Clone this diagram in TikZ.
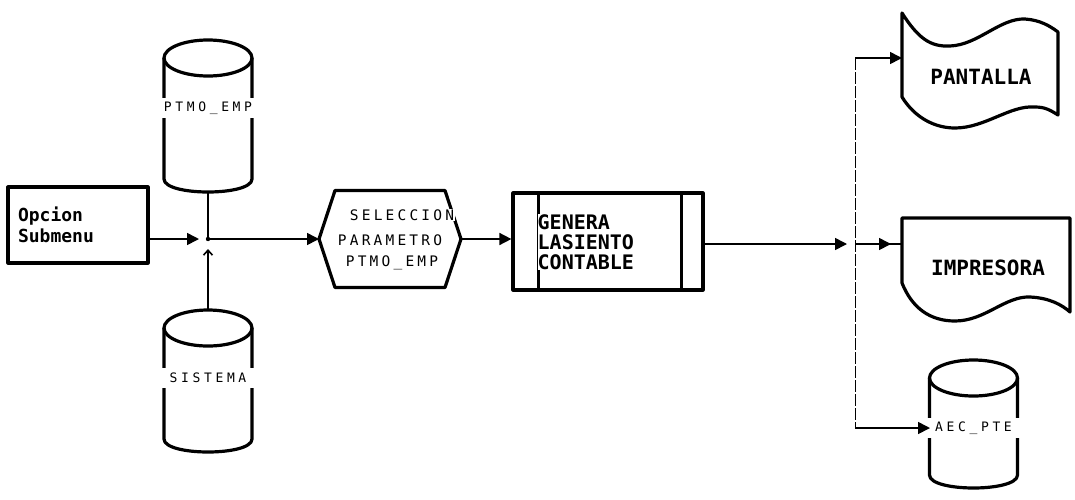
\documentclass[tikz,border=0pt]{standalone}
\usepackage{fontspec}
\usetikzlibrary{arrows.meta}
\newfontfamily\pf{DejaVu Sans Mono}
\newfontfamily\pfs[LetterSpace=28]{DejaVu Sans Mono}
\newfontfamily\pfh[LetterSpace=22]{DejaVu Sans Mono}
\tikzset{
  shp/.style={line width=3.2pt, line join=round},
  conn/.style={line width=1.6pt},
  thinl/.style={line width=1pt, dash pattern=on 12pt off 2pt},
  tip/.style={-{Triangle[length=12pt,width=12pt]}},
  openup/.style={-{Straight Barb[length=5pt,width=9pt]}},
  big/.style={font=\pf\bfseries\fontsize{20}{20}\selectfont, inner sep=0pt},
  lab/.style={font=\pfs\fontsize{13}{14}\selectfont, fill=white, inner sep=1pt},
  hlab/.style={font=\pfh\fontsize{14.5}{15}\selectfont, fill=white, inner sep=1pt},
}
\newcommand\dbcyl[6]{%
  \draw[shp] (#2,#3+18) ellipse [x radius=44pt, y radius=18pt];
  \draw[shp] (#2-44,#3+18) -- (#2-44,#4-13) .. controls (#2-44,#4+4.33) and (#2+44,#4+4.33) .. (#2+44,#4-13) -- (#2+44,#3+18);
  \coordinate (#1-top) at (#2,#3);
  \coordinate (#1-bot) at (#2,#4);
  \node[lab, minimum height=20pt, minimum width=93pt] (#1) at (#2,#5) {#6};
}
\begin{document}
\begin{tikzpicture}[x=1pt,y=-1pt]
\useasboundingbox[fill=white] (0,0) rectangle (1075,499);

% Opcion Submenu
\node[draw, shp, minimum width=140pt, minimum height=76pt, text width=120pt, inner xsep=10pt, align=left,
      font=\pf\bfseries\fontsize{18}{21}\selectfont] (opc) at (78,225) {Opcion\\Submenu};

% cylinders
\dbcyl{ptmo}{208}{40}{192}{108}{PTMO\_EMP}
\dbcyl{sis}{208}{310}{452}{378}{SISTEMA}
\dbcyl{aec}{973.5}{360}{488}{428}{AEC\_PTE}

% hexagon
\draw[shp] (335,190.5) -- (445,190.5) -- (461,239) -- (445,287.5) -- (335,287.5) -- (319,239) -- cycle;
\coordinate (hexW) at (319,239);
\coordinate (hexE) at (461,239);
\node[hlab] (s1) at (402,215) {SELECCION};
\node[hlab] (s2) at (390,240) {PARAMETRO};
\node[hlab] (s3) at (392,263) {PTMO\_EMP};

% predefined process
\node[draw, shp, minimum width=190pt, minimum height=97pt] (gen) at (608,241.5) {};
\draw[shp] ([xshift=27pt]gen.north west) -- ([xshift=27pt]gen.south west);
\draw[shp] ([xshift=-23pt]gen.north east) -- ([xshift=-23pt]gen.south east);
\node[big, fill=white, align=left, anchor=west] (gtext) at (537.5,242) {GENERA\\LASIENTO\\CONTABLE};

% PANTALLA
\draw[shp] (902,13) .. controls (918,38) and (930,47) .. (950,46) .. controls (978,45) and (1000,18) .. (1025,19)
  .. controls (1040,20) and (1050,26) .. (1058,32) -- (1058,115)
  .. controls (1050,110) and (1045,107) .. (1035,107) .. controls (1010,105) and (985,128) .. (955,128)
  .. controls (935,128) and (915,118) .. (902,97) -- cycle;
\coordinate (panIn) at (902,58);
\node[font=\pf\bfseries\fontsize{21}{21}\selectfont, inner sep=0pt] (pant) at (981,77) {PANTALLA};

% IMPRESORA
\draw[shp] (902,218) -- (1070,218) -- (1070,312) .. controls (1062,305) and (1050,298) .. (1030,297)
  .. controls (1005,296) and (985,321) .. (955,321) .. controls (930,321) and (912,308) .. (902,283) -- cycle;
\coordinate (impIn) at (902,244);
\node[font=\pf\bfseries\fontsize{21}{21}\selectfont, inner sep=0pt] (impr) at (988,268) {IMPRESORA};

\coordinate (aecIn) at (930,428);

% connectors
\coordinate (J1) at (208,239);
\draw[conn, tip, shorten >=9pt] (opc.east |- J1) -- (J1);
\draw[conn] (ptmo-bot) -- (J1);
\draw[conn, openup, shorten >=10pt] (sis-top) -- (J1);
\fill (J1) circle (2.2pt);
\draw[conn, tip] (J1) -- (J1 -| hexW);
\draw[conn, tip] (hexE) -- (hexE -| gen.west);

\coordinate (J2) at (855,244);
\draw[conn, tip, shorten >=8pt] (gen.east |- J2) -- (J2);
\draw[conn] (J2) -- (impIn);
\draw[conn, tip, shorten >=11pt] (J2) -- (impIn);
\draw[thinl] (panIn -| J2) -- (aecIn -| J2);
\draw[conn, tip] (panIn -| J2) -- (panIn);
\draw[conn, tip] (aecIn -| J2) -- (aecIn);
\end{tikzpicture}
\end{document}
